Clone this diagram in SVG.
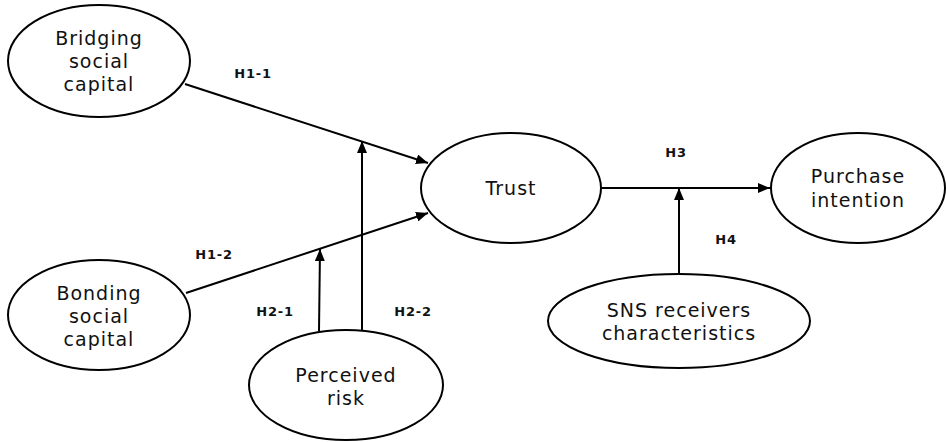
<svg xmlns="http://www.w3.org/2000/svg" width="946" height="442" viewBox="0 0 946 442">
<style>
.node ellipse{fill:#fff;stroke:#000;stroke-width:2}
.node text{font-family:"DejaVu Sans",sans-serif;font-size:19px;fill:#111;text-anchor:middle;letter-spacing:1px}
.conn line{stroke:#000;stroke-width:2}
.lbl{font-family:"DejaVu Sans",sans-serif;font-weight:bold;font-size:13px;fill:#111;text-anchor:middle;letter-spacing:0.8px}
</style>
<defs>
<marker id="ah" viewBox="0 0 12 10" refX="12" refY="5" markerWidth="12" markerHeight="10" markerUnits="userSpaceOnUse" orient="auto">
<path d="M0,0 L12,5 L0,10 Z" fill="#000"/>
</marker>
</defs>
<g class="conn">
<line x1="185" y1="84" x2="428" y2="163" marker-end="url(#ah)"/>
<line x1="186" y1="293" x2="428" y2="213" marker-end="url(#ah)"/>
<line x1="362" y1="331" x2="362" y2="141" marker-end="url(#ah)"/>
<line x1="319" y1="331" x2="320" y2="249" marker-end="url(#ah)"/>
<line x1="602" y1="188" x2="770" y2="188" marker-end="url(#ah)"/>
<line x1="679" y1="274" x2="679" y2="188" marker-end="url(#ah)"/>
<text class="lbl" x="253" y="78">H1-1</text>
<text class="lbl" x="214" y="259">H1-2</text>
<text class="lbl" x="275" y="316">H2-1</text>
<text class="lbl" x="413" y="316">H2-2</text>
<text class="lbl" x="676" y="157">H3</text>
<text class="lbl" x="726" y="244">H4</text>
</g>
<g class="node" id="bridging">
<ellipse cx="99" cy="61" rx="91" ry="56"/>
<text><tspan x="99" y="45">Bridging</tspan><tspan x="99" y="68">social</tspan><tspan x="99" y="91">capital</tspan></text>
</g>
<g class="node" id="bonding">
<ellipse cx="99" cy="315" rx="91" ry="55"/>
<text><tspan x="99" y="300">Bonding</tspan><tspan x="99" y="323">social</tspan><tspan x="99" y="346">capital</tspan></text>
</g>
<g class="node" id="risk">
<ellipse cx="346" cy="385" rx="97" ry="55"/>
<text><tspan x="346" y="382">Perceived</tspan><tspan x="346" y="405">risk</tspan></text>
</g>
<g class="node" id="trust">
<ellipse cx="511" cy="188" rx="90" ry="55"/>
<text x="511" y="195">Trust</text>
</g>
<g class="node" id="purchase">
<ellipse cx="858" cy="188" rx="87" ry="55"/>
<text><tspan x="858" y="183">Purchase</tspan><tspan x="858" y="207">intention</tspan></text>
</g>
<g class="node" id="sns">
<ellipse cx="679" cy="321" rx="131" ry="47"/>
<text><tspan x="679" y="317">SNS receivers</tspan><tspan x="679" y="340">characteristics</tspan></text>
</g>
</svg>
